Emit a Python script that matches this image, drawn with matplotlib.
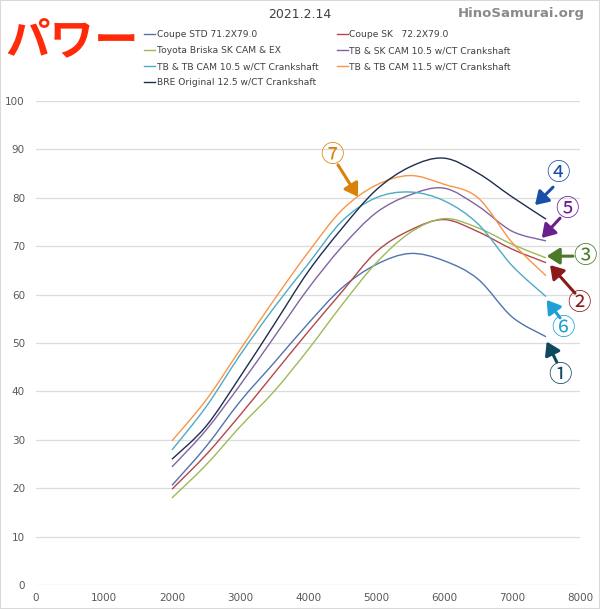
import matplotlib.pyplot as plt
from matplotlib.patches import Rectangle, PathPatch
from matplotlib.path import Path
from matplotlib.lines import Line2D

rpm = [2000, 2500, 3000, 3500, 4000, 4500, 5000, 5500, 6000, 6500, 7000, 7500]

coupe_std = [20.6, 28.6, 37.9, 45.9, 54.0, 61.4, 66.2, 68.5, 67.0, 63.2, 55.4, 51.3]
coupe_sk = [19.8, 26.9, 35.1, 43.7, 52.3, 60.6, 68.8, 73.3, 75.5, 73.0, 69.4, 66.6]
briska = [18.0, 24.8, 32.7, 40.0, 48.6, 57.9, 66.5, 72.8, 75.7, 73.8, 70.4, 67.6]
tb_sk_105 = [24.4, 32.0, 41.3, 51.2, 61.2, 69.9, 76.9, 80.6, 82.0, 78.3, 73.1, 71.1]
tb_tb_105 = [27.9, 36.8, 47.5, 57.3, 66.3, 75.2, 80.0, 81.2, 79.4, 74.6, 66.0, 59.6]
tb_tb_115 = [29.8, 38.2, 48.6, 58.9, 68.7, 77.5, 82.6, 84.6, 82.8, 80.0, 70.8, 63.9]
bre_125 = [26.0, 32.8, 43.0, 53.8, 64.7, 73.7, 81.6, 86.4, 88.2, 85.1, 80.2, 75.6]

labels = [
    "Coupe STD 71.2X79.0",
    "Coupe SK   72.2X79.0",
    "Toyota Briska SK CAM & EX",
    "TB & SK CAM 10.5 w/CT Crankshaft",
    "TB & TB CAM 10.5 w/CT Crankshaft",
    "TB & TB CAM 11.5 w/CT Crankshaft",
    "BRE Original 12.5 w/CT Crankshaft",
]
series = [coupe_std, coupe_sk, briska, tb_sk_105, tb_tb_105, tb_tb_115, bre_125]
colors = ["#4f74b0", "#b5474b", "#9bbb59", "#8064a2", "#4bacc6", "#f79646", "#1f2d4f"]


def smooth_path(xs, ys):
    # Excel-style smoothed line: cubic bezier through every point
    pts = list(zip(xs, ys))
    verts = [pts[0]]
    codes = [Path.MOVETO]
    n = len(pts)
    for i in range(n - 1):
        p0 = pts[max(i - 1, 0)]
        p1 = pts[i]
        p2 = pts[i + 1]
        p3 = pts[min(i + 2, n - 1)]
        c1 = (p1[0] + (p2[0] - p0[0]) / 6, p1[1] + (p2[1] - p0[1]) / 6)
        c2 = (p2[0] - (p3[0] - p1[0]) / 6, p2[1] - (p3[1] - p1[1]) / 6)
        verts += [c1, c2, p2]
        codes += [Path.CURVE4] * 3
    return Path(verts, codes)


fig = plt.figure(figsize=(6, 6.09), dpi=100)
ax = fig.add_axes([0.06, 0.0394, 0.9067, 0.7947])

handles = []
for vals, lab, c in zip(series, labels, colors):
    ax.add_patch(PathPatch(smooth_path(rpm, vals), fill=False, edgecolor=c, lw=1.0))
    handles.append(Line2D([], [], color=c, lw=1.0))

ax.set_xlim(0, 8000)
ax.set_ylim(0, 100)
ax.set_xticks(range(0, 8001, 1000))
ax.set_yticks(range(0, 101, 10))
ax.grid(axis="y", color="#dcdcdc", lw=0.9)
ax.set_axisbelow(True)
for s in ax.spines.values():
    s.set_visible(False)
ax.tick_params(length=0, labelsize=7.5, labelcolor="#595959")
ax.tick_params(axis="y", pad=8)
ax.tick_params(axis="x", pad=6)

# legend: column-major order gives the row layout of the original
order = [0, 2, 4, 6, 1, 3, 5]
fig.legend([handles[i] for i in order], [labels[i] for i in order],
           loc="upper left", bbox_to_anchor=(136 / 600, 1 - 22 / 609),
           ncol=2, frameon=False, fontsize=6.6, handlelength=1.2,
           handletextpad=0.15, columnspacing=2.0, labelspacing=0.75,
           labelcolor="#404040")

fig.text(0.5, 1 - 14 / 609, "2021.2.14", ha="center", va="center",
         fontsize=9, color="#404040")
fig.text(585 / 600, 1 - 14 / 609, "HinoSamurai.org", ha="right", va="center",
         fontsize=9.5, color="#8a8a8a", fontweight="bold")
fig.text(5 / 600, 1 - 41 / 609, "パワー", ha="left", va="center",
         fontsize=32, color="#ff2a0a", fontweight="bold",
         family=["Noto Sans CJK JP", "DejaVu Sans"])

cjk = ["Noto Sans CJK JP", "DejaVu Sans"]
arrow = "-|>,head_length=0.55,head_width=0.35"

# circled-number callouts near the curve ends: (label, colour, series, tip, tail, text)
marks = [
    ("④", "#1a4fa8", bre_125, (-162, 2.9), (103, 6.6), (176, 9.5)),
    ("⑤", "#6a1f8f", tb_sk_105, (-63, 0.6), (206, 4.7), (304, 6.5)),
    ("③", "#4a7a2a", briska, (10, 0.35), (397, 0.35), (574, 0.35)),
    ("②", "#8b1a1a", coupe_sk, (59, -0.5), (426, -6.3), (490, -8.4)),
    ("⑥", "#1ea0d6", tb_tb_105, (10, -0.7), (206, -4.4), (255, -6.7)),
    ("①", "#0e4a5e", coupe_std, (10, -1.0), (157, -5.2), (206, -8.1)),
]
for txt, c, vals, tip, tail, pos in marks:
    x0, y0 = rpm[-1], vals[-1]
    ax.annotate("", xy=(x0 + tip[0], y0 + tip[1]),
                xytext=(x0 + tail[0], y0 + tail[1]), annotation_clip=False,
                arrowprops=dict(arrowstyle=arrow, color=c, lw=2.2,
                                mutation_scale=14, shrinkA=0, shrinkB=0))
    ax.text(x0 + pos[0], y0 + pos[1], txt, ha="center", va="center",
            fontsize=17, color=c, family=cjk, clip_on=False)

ax.annotate("", xy=(4735, 80.2), xytext=(4441, 86.8),
            arrowprops=dict(arrowstyle=arrow, color="#d9820a", lw=2.2,
                            mutation_scale=14, shrinkA=0, shrinkB=0))
ax.text(4357, 88.7, "⑦", ha="center", va="center", fontsize=17,
        color="#d9820a", family=cjk)

fig.patches.append(Rectangle((0, 0), 1, 1, transform=fig.transFigure,
                             fill=False, edgecolor="#d9d9d9", lw=1.5))

fig.savefig("out.png", dpi=100)
